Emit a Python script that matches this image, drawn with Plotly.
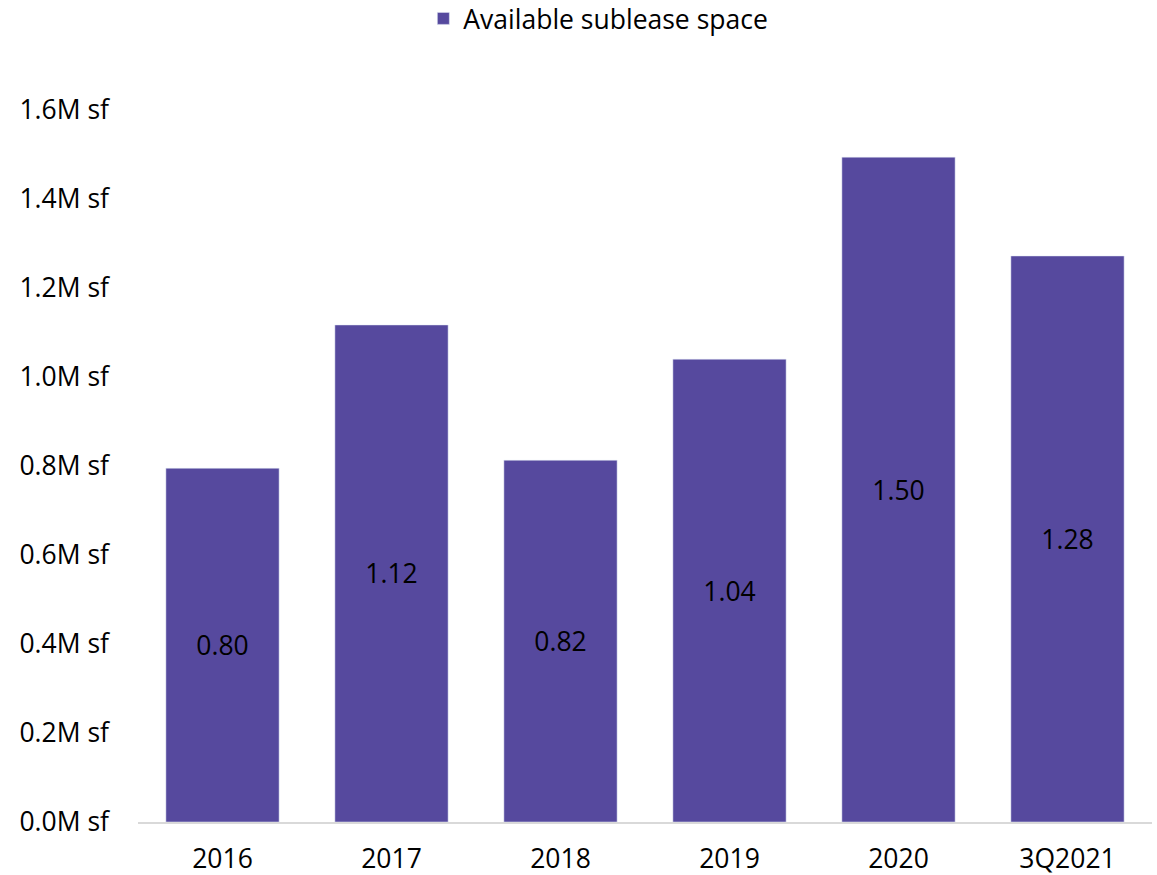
import plotly.graph_objects as go

categories = ["2016", "2017", "2018", "2019", "2020", "3Q2021"]
sublease_msf = [0.795, 1.117, 0.813, 1.040, 1.494, 1.272]
bar_labels = ["0.80", "1.12", "0.82", "1.04", "1.50", "1.28"]
tick_vals = [0.0, 0.2, 0.4, 0.6, 0.8, 1.0, 1.2, 1.4, 1.6]
tick_text = [f"{v:.1f}M sf" for v in tick_vals]

FS = 26.5

fig = go.Figure()
fig.add_trace(go.Bar(
    x=categories, y=sublease_msf, name="Available sublease space",
    marker=dict(color="#56499E"),
    text=bar_labels,
    textposition="inside", insidetextanchor="middle",
    textfont=dict(color="#000000", size=FS, family="Open Sans"),
    width=0.67,
))
fig.update_layout(
    width=1157, height=875,
    margin=dict(l=138, r=5, t=110, b=53, autoexpand=False),
    paper_bgcolor="white", plot_bgcolor="white",
    font=dict(family="Open Sans", size=FS, color="#000000"),
    showlegend=True,
    legend=dict(orientation="h", x=0.454, xanchor="center", y=1.162, yanchor="top",
                font=dict(size=FS), itemwidth=30),
    uniformtext=dict(mode=False),
    bargap=0.33,
)
fig.update_xaxes(showline=True, linecolor="#d9d9d9", linewidth=2, ticks="",
                 tickfont=dict(size=FS), showgrid=False, ticklabelstandoff=12,
                 automargin=False)
fig.update_yaxes(range=[0, 1.6], tickvals=tick_vals, ticktext=tick_text,
                 showgrid=False, zeroline=False, showline=False, ticks="",
                 ticklabelstandoff=28, tickfont=dict(size=FS), automargin=False)
fig.write_html("out.html")
